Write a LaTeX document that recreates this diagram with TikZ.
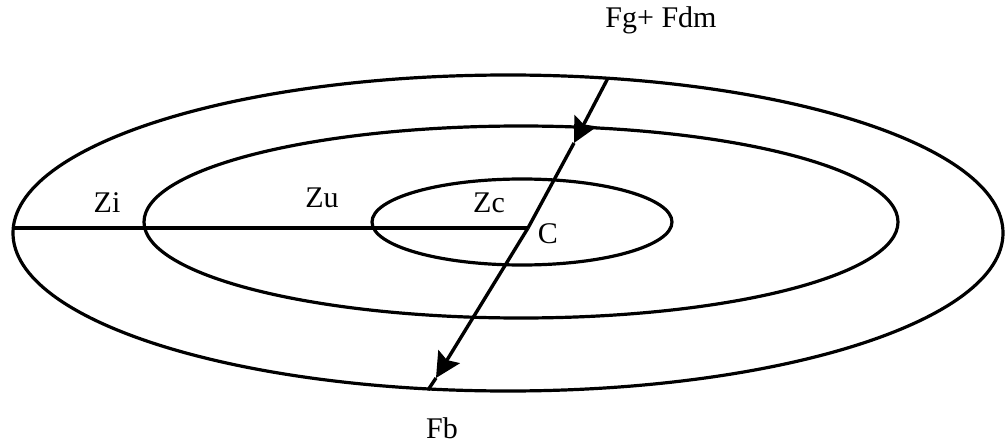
\documentclass[tikz,border=0pt]{standalone}
\usepackage{fontspec}
\setmainfont{Liberation Serif}
\usetikzlibrary{arrows.meta}
\tikzset{
  ring/.style={draw=black, line width=3.2pt},
  force/.style={draw=black, line width=3.4pt},
  radius line/.style={draw=black, line width=4.8pt},
  lbl/.style={anchor=base, inner sep=0pt, font=\fontsize{30}{32}\selectfont},
  tip/.style={-{Stealth[length=25pt,width=25pt,inset=4pt]}}
}
\begin{document}
\begin{tikzpicture}[x=1pt,y=-1pt]
\useasboundingbox (0,0) rectangle (1005,444);
% ellipses
\draw[ring] (508,233) ellipse [x radius=495pt, y radius=158pt];
\draw[ring] (521,222) ellipse [x radius=377pt, y radius=96pt];
\draw[ring] (522,222) ellipse [x radius=150pt, y radius=43pt];
% points
\coordinate (L) at (12,228);
\coordinate (C) at (528,228);
\coordinate (T) at (608,78);
\coordinate (A1) at (574,143);
\coordinate (A2) at (436,378);
\coordinate (B) at (428,390);
% radius line
\draw[radius line] (L) -- (C);
% force line
\draw[force,tip] (T) -- (A1);
\draw[force] (A1) -- (C);
\draw[force,tip] (C) -- (A2);
\draw[force] (A2) -- (B);
% labels
\node[lbl] (fg) at (661,28) {Fg+ Fdm};
\node[lbl] (fb) at (442,438) {Fb};
\node[lbl] (zi) at (107,212) {Zi};
\node[lbl] (zu) at (322,207) {Zu};
\node[lbl] (zc) at (489,212) {Zc};
\node[lbl] (c) at (548,243) {C};
\end{tikzpicture}
\end{document}
